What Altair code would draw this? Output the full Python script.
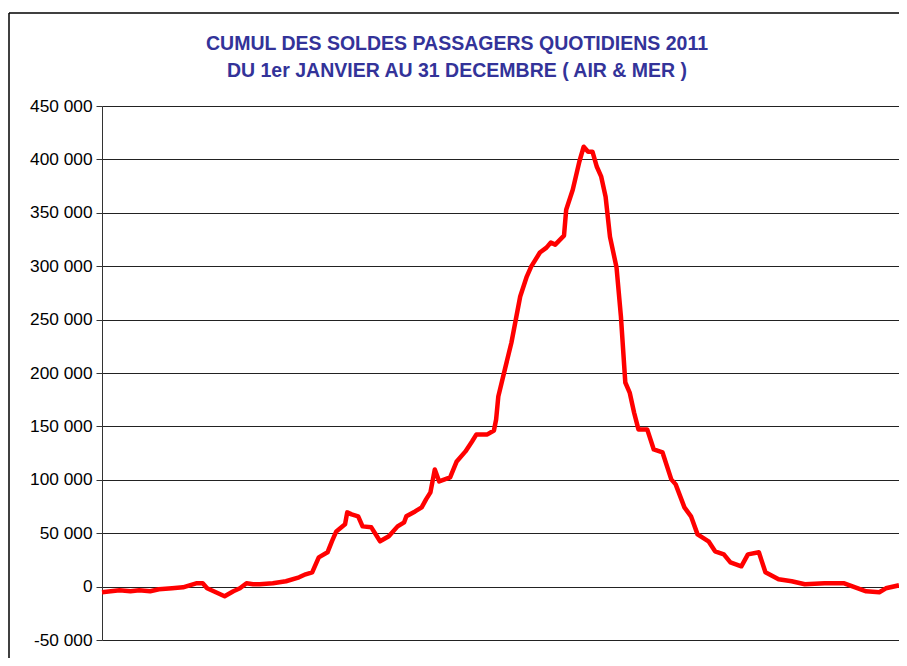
import altair as alt
import pandas as pd

days = [0, 4, 8, 13, 17, 22, 26, 32, 37, 43, 46, 48, 52, 56, 60, 63, 66, 69, 72, 78,
        84, 90, 93, 96, 99, 103, 105, 107, 111, 112, 114, 117, 119, 123, 127, 131, 135, 138, 139, 143,
        146, 148, 150, 152, 154, 159, 162, 166, 169, 171, 176, 179, 180, 181, 184, 187, 189, 191, 194, 196,
        200, 203, 205, 207, 211, 212, 215, 218, 220, 222, 224, 226, 228, 230, 232, 235, 237, 239, 241, 243,
        245, 249, 252, 256, 260, 262, 266, 269, 272, 277, 280, 284, 287, 292, 295, 300, 303, 309, 315, 321,
        330, 339, 344, 349, 355, 358, 364]
values = [-5300, -4400, -3500, -4400, -3500, -4400, -2500, -1600, -700, 3100, 3100, -1600, -5300, -9100, -4400, -1600, 3100, 2200, 2200, 3100,
          5000, 8700, 11500, 13400, 27400, 32100, 42400, 51700, 58300, 69500, 67600, 65800, 56400, 55500, 42400, 47100, 56400, 60200, 65800, 70400,
          74200, 81700, 88200, 109700, 98500, 102200, 117200, 126600, 135900, 142500, 142500, 146200, 156500, 178000, 203400, 228600, 250100, 271600, 290300, 299600,
          312800, 317400, 322100, 320200, 328600, 352900, 371600, 397800, 411900, 407200, 407200, 393100, 383800, 365100, 327600, 298700, 252800, 191100, 181700, 163000,
          147200, 147200, 128400, 125600, 100400, 95700, 74200, 65800, 48900, 42400, 33000, 30200, 22700, 19000, 30200, 32100, 13400, 6800, 5000, 2200,
          3100, 3100, -700, -4400, -5300, -1600, 1200]

title_lines = ["CUMUL DES SOLDES PASSAGERS QUOTIDIENS 2011",
               "DU 1er JANVIER AU 31 DECEMBRE ( AIR & MER )"]
y_ticks = [-50000, 0, 50000, 100000, 150000, 200000, 250000, 300000, 350000, 400000, 450000]

df = pd.DataFrame({"day": days, "value": values})

line = alt.Chart(df).mark_line(color="#ff0000", strokeWidth=4.5, strokeJoin="round").encode(
    x=alt.X("day:Q", axis=None, scale=alt.Scale(domain=[0, 364], nice=False, zero=False)),
    y=alt.Y("value:Q", title=None,
            scale=alt.Scale(domain=[-50000, 450000], nice=False),
            axis=alt.Axis(values=y_ticks, format=",.0f", grid=True, gridColor="#222222",
                          gridWidth=1, domainColor="#333333", tickColor="#333333",
                          tickSize=6, labelPadding=4, labelFontSize=17.3,
                          labelFont="Liberation Sans", labelColor="#000000")),
)

one = alt.Data(values=[{}])
frame_left = alt.Chart(one).mark_rule(color="#000000", strokeWidth=1.5).encode(
    x=alt.value(-93), y=alt.value(-93), y2=alt.value(560))
frame_top = alt.Chart(one).mark_rule(color="#000000", strokeWidth=1.5).encode(
    x=alt.value(-93), x2=alt.value(810), y=alt.value(-93))

title_df = pd.DataFrame({"line": title_lines, "pos": [0, 1]})
title = alt.Chart(title_df).mark_text(
    font="Liberation Sans", fontSize=19.5, fontWeight="bold", color="#333399",
    align="center", baseline="middle").encode(
    text="line:N",
    x=alt.value(355),
    y=alt.Y("pos:Q", axis=None, scale=alt.Scale(domain=[0, 1], range=[-62, -35], nice=False, zero=False)),
)

chart = alt.layer(line, title, frame_left, frame_top).resolve_scale(y="independent").properties(
    width=797, height=534,
    autosize=alt.AutoSizeParams(type="none"),
    padding={"left": 94, "top": 98, "right": 0, "bottom": 18},
).configure_view(stroke="#888888", strokeWidth=1.5).configure(
    locale={"number": {"decimal": ",", "thousands": " ", "grouping": [3],
                       "currency": ["", " €"], "minus": "-"}}
)

chart.save("out.html", embed_options={"renderer": "svg", "actions": False})
